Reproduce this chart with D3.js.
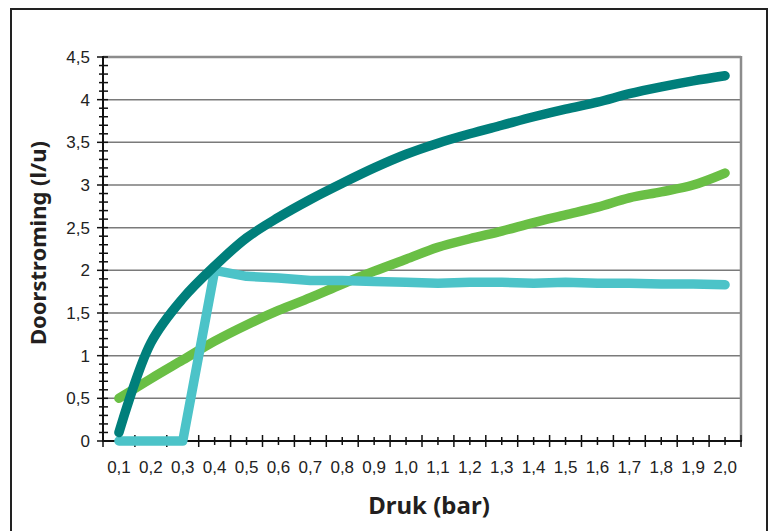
<!DOCTYPE html>
<html>
<head>
<meta charset="utf-8">
<script src="https://cdn.jsdelivr.net/npm/d3@7"></script>
<style>
  body { margin: 0; background: #fff; }
  svg { display: block; }
</style>
</head>
<body>
<div id="chart"></div>
<script>
// druk in bar
var categories = ['0,1','0,2','0,3','0,4','0,5','0,6','0,7','0,8','0,9','1,0',
                  '1,1','1,2','1,3','1,4','1,5','1,6','1,7','1,8','1,9','2,0'];

var seriesDark  = [0.10, 1.15, 1.67, 2.05, 2.38, 2.62, 2.83, 3.02, 3.20, 3.36,
                   3.49, 3.60, 3.70, 3.80, 3.89, 3.97, 4.07, 4.15, 4.22, 4.28];
var seriesGreen = [0.50, 0.73, 0.95, 1.17, 1.36, 1.53, 1.68, 1.84, 1.99, 2.13,
                   2.27, 2.37, 2.46, 2.56, 2.65, 2.74, 2.85, 2.92, 3.00, 3.14];
var seriesCyan  = [0.00, 0.00, 0.00, 2.00, 1.93, 1.91, 1.88, 1.88, 1.87, 1.86,
                   1.85, 1.86, 1.86, 1.85, 1.86, 1.85, 1.85, 1.84, 1.84, 1.83];

var yTicks = [0, 0.5, 1, 1.5, 2, 2.5, 3, 3.5, 4, 4.5];

var width = 768, height = 531;
var plot = {left: 103, right: 741, top: 57, bottom: 441};

var svg = d3.select('#chart').append('svg')
	.attr('width', width).attr('height', height);

// outer frame
svg.append('rect')
	.attr('x', 11).attr('y', 9).attr('width', 756).attr('height', 540)
	.attr('fill', 'none').attr('stroke', '#222').attr('stroke-width', 2);

var x = d3.scaleBand().domain(categories).range([plot.left, plot.right]);
var y = d3.scaleLinear().domain([0, 4.5]).range([plot.bottom, plot.top]);

function comma(v) { return String(v).replace('.', ','); }

// gridlines
svg.selectAll('.grid').data(yTicks.filter(function(d) { return d > 0; }))
	.enter().append('line')
	.attr('x1', plot.left).attr('x2', plot.right)
	.attr('y1', function(d) { return y(d); }).attr('y2', function(d) { return y(d); })
	.attr('stroke', function(d) { return d === 4.5 ? '#8c8c8c' : '#7a7a7a'; })
	.attr('stroke-width', function(d) { return d === 4.5 ? 2.5 : 1.5; });

// right border of plot
svg.append('line')
	.attr('x1', plot.right).attr('x2', plot.right)
	.attr('y1', plot.top - 1).attr('y2', plot.bottom)
	.attr('stroke', '#8c8c8c').attr('stroke-width', 2.5);

// y axis with minor ticks every 0.1
var yAxis = svg.append('g');
yAxis.append('line')
	.attr('x1', plot.left).attr('x2', plot.left)
	.attr('y1', plot.top - 1).attr('y2', plot.bottom + 1)
	.attr('stroke', '#111').attr('stroke-width', 2);
yAxis.selectAll('.ytick').data(d3.range(0, 46))
	.enter().append('line')
	.attr('x1', function(d) { return d % 5 === 0 ? plot.left - 6 : plot.left - 4; })
	.attr('x2', plot.left + 5)
	.attr('y1', function(d) { return y(d / 10); }).attr('y2', function(d) { return y(d / 10); })
	.attr('stroke', '#111').attr('stroke-width', 1.5);
yAxis.selectAll('.ylabel').data(yTicks)
	.enter().append('text')
	.attr('x', 90).attr('y', function(d) { return y(d); })
	.attr('dy', '0.36em')
	.attr('text-anchor', 'end')
	.style('font-family', '"Liberation Sans", Arial, sans-serif').style('font-size', '17px')
	.style('fill', '#222')
	.text(comma);

// x axis: ticks at band edges and band centres
var xAxis = svg.append('g');
xAxis.append('line')
	.attr('x1', plot.left).attr('x2', plot.right + 1)
	.attr('y1', plot.bottom).attr('y2', plot.bottom)
	.attr('stroke', '#111').attr('stroke-width', 2);
var bw = x.bandwidth();
xAxis.selectAll('.xtick').data(d3.range(0, 41))
	.enter().append('line')
	.attr('x1', function(d) { return plot.left + d * bw / 2; })
	.attr('x2', function(d) { return plot.left + d * bw / 2; })
	.attr('y1', function(d) { return d % 2 === 0 ? plot.bottom - 6 : plot.bottom - 4; })
	.attr('y2', function(d) { return d % 2 === 0 ? plot.bottom + 6 : plot.bottom + 4; })
	.attr('stroke', '#111').attr('stroke-width', 1.5);
xAxis.selectAll('.xlabel').data(categories)
	.enter().append('text')
	.attr('x', function(d) { return x(d) + bw / 2; })
	.attr('y', 473)
	.attr('text-anchor', 'middle')
	.style('font-family', '"Liberation Sans", Arial, sans-serif').style('font-size', '17px')
	.style('fill', '#222')
	.text(function(d) { return d; });

// series
var smooth = d3.line()
	.x(function(d, i) { return x(categories[i]) + bw / 2; })
	.y(function(d) { return y(d); })
	.curve(d3.curveCatmullRom.alpha(0.5));
var straight = d3.line()
	.x(function(d, i) { return x(categories[i]) + bw / 2; })
	.y(function(d) { return y(d); });

var series = [
	{values: seriesGreen, color: '#6abf45', line: smooth},
	{values: seriesCyan, color: '#4cc3c8', line: straight},
	{values: seriesDark, color: '#007f7b', line: smooth}
];

svg.selectAll('.series').data(series)
	.enter().append('path')
	.attr('d', function(d) { return d.line(d.values); })
	.attr('fill', 'none')
	.attr('stroke', function(d) { return d.color; })
	.attr('stroke-width', 9.5)
	.attr('stroke-linecap', 'round')
	.attr('stroke-linejoin', 'round');

// titles
svg.append('text')
	.attr('transform', 'translate(46,243) rotate(-90)')
	.attr('text-anchor', 'middle')
	.style('font-family', '"Noto Sans", sans-serif').style('font-weight', 'bold')
	.style('font-size', '22px').style('fill', '#231f20')
	.text('Doorstroming (l/u)');

svg.append('text')
	.attr('x', 429).attr('y', 514)
	.attr('text-anchor', 'middle')
	.style('font-family', '"Noto Sans", sans-serif').style('font-weight', 'bold')
	.style('font-size', '24px').style('fill', '#231f20')
	.text('Druk (bar)');
</script>
</body>
</html>
